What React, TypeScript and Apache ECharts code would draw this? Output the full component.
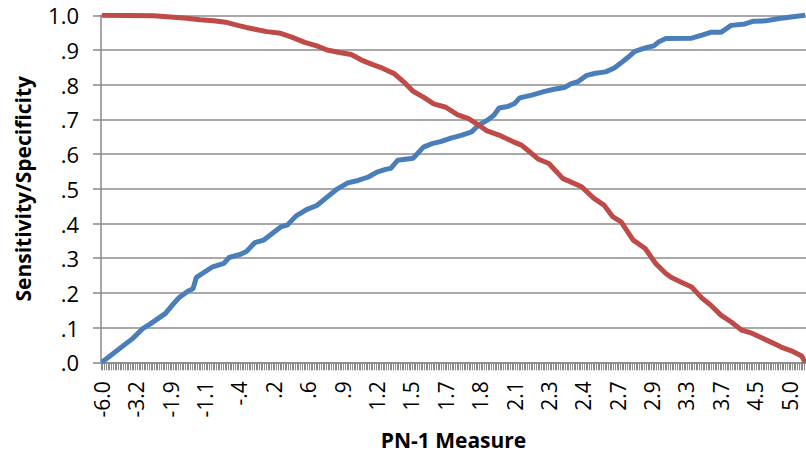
import React, { useEffect, useRef } from "react";
import * as echarts from "echarts";

const CATEGORY_COUNT = 410;
const LABEL_STEP = 20;
const tickLabels = ["-6.0", "-3.2", "-1.9", "-1.1", "-.4", ".2", ".6", ".9", "1.2", "1.5", "1.7", "1.8", "2.1", "2.3", "2.4", "2.7", "2.9", "3.3", "3.7", "4.5", "5.0"];

const sensIndex = [0, 18, 24, 28, 37, 41, 45, 50, 53, 55, 64, 71, 74, 81, 84, 89, 94, 104, 108, 113, 119, 125, 131, 137, 143, 149, 155, 160, 165, 168, 172, 181, 187, 192, 197, 203, 209, 215, 219, 224, 228, 231, 236, 240, 243, 250, 257, 263, 269, 273, 277, 282, 287, 293, 298, 302, 306, 310, 316, 321, 324, 328, 343, 349, 354, 360, 366, 374, 379, 386, 394, 402, 409];
const sensValue = [0.0, 0.069, 0.098, 0.11, 0.141, 0.165, 0.187, 0.205, 0.212, 0.245, 0.274, 0.285, 0.302, 0.312, 0.319, 0.345, 0.352, 0.39, 0.396, 0.422, 0.44, 0.452, 0.476, 0.5, 0.517, 0.524, 0.534, 0.548, 0.556, 0.559, 0.582, 0.588, 0.62, 0.63, 0.636, 0.646, 0.654, 0.664, 0.683, 0.697, 0.712, 0.733, 0.737, 0.746, 0.762, 0.77, 0.78, 0.787, 0.792, 0.803, 0.809, 0.827, 0.833, 0.837, 0.848, 0.863, 0.879, 0.896, 0.906, 0.912, 0.924, 0.933, 0.934, 0.943, 0.951, 0.951, 0.971, 0.975, 0.983, 0.984, 0.991, 0.996, 1.0];

const specIndex = [0, 30, 48, 57, 65, 73, 79, 84, 89, 96, 104, 110, 118, 125, 131, 139, 145, 151, 158, 162, 165, 170, 176, 181, 187, 193, 200, 207, 213, 219, 224, 231, 239, 244, 247, 254, 260, 268, 279, 286, 292, 297, 302, 309, 316, 322, 328, 331, 337, 343, 349, 354, 360, 366, 372, 378, 384, 390, 395, 401, 407, 409];
const specValue = [1.0, 0.999, 0.992, 0.987, 0.984, 0.979, 0.971, 0.965, 0.96, 0.953, 0.948, 0.938, 0.922, 0.912, 0.9, 0.892, 0.887, 0.871, 0.857, 0.85, 0.843, 0.832, 0.806, 0.781, 0.764, 0.745, 0.735, 0.713, 0.703, 0.684, 0.667, 0.655, 0.636, 0.626, 0.614, 0.585, 0.573, 0.53, 0.506, 0.473, 0.453, 0.42, 0.405, 0.352, 0.328, 0.285, 0.256, 0.245, 0.231, 0.217, 0.185, 0.165, 0.136, 0.116, 0.093, 0.084, 0.07, 0.056, 0.044, 0.033, 0.018, 0.0];

const FONT = "'Open Sans', 'Liberation Sans', sans-serif";

export default function App() {
  const ref = useRef<HTMLDivElement>(null);
  useEffect(() => {
    if (!ref.current) return;
    const chart = echarts.init(ref.current, undefined, { renderer: "svg" });
    const categories: string[] = [];
    for (let i = 0; i < CATEGORY_COUNT; i++) {
      const k = i / LABEL_STEP;
      categories.push(i % LABEL_STEP === 0 && k < tickLabels.length ? tickLabels[k] : "");
    }
    const sensData = sensIndex.map((idx, k) => [idx, sensValue[k]]);
    const specData = specIndex.map((idx, k) => [idx, specValue[k]]);
    chart.setOption({
      animation: false,
      grid: { left: 101, top: 15.3, width: 705, height: 347, containLabel: false, outerBoundsMode: "none" },
      xAxis: {
        type: "category",
        data: categories,
        boundaryGap: true,
        name: "PN-1 Measure",
        nameLocation: "middle",
        nameGap: 67,
        nameTextStyle: { fontFamily: FONT, fontWeight: "bold", fontSize: 21, color: "#000" },
        axisLine: { lineStyle: { color: "#888", width: 1.5 } },
        axisTick: { show: true, interval: 0, length: 8, lineStyle: { color: "#8a8a8a", width: 1 } },
        axisLabel: { interval: LABEL_STEP - 1, rotate: 90, margin: 19, fontFamily: FONT, fontSize: 21, color: "#000" },
        splitLine: { show: false },
      },
      yAxis: {
        type: "value",
        min: 0,
        max: 1,
        interval: 0.1,
        name: "Sensitivity/Specificity",
        nameLocation: "middle",
        nameGap: 68,
        nameRotate: 90,
        nameTextStyle: { fontFamily: FONT, fontWeight: "bold", fontSize: 21, color: "#000" },
        axisLine: { show: true, lineStyle: { color: "#888", width: 1.5 } },
        axisTick: { show: true, length: 8, lineStyle: { color: "#888", width: 1.5 } },
        axisLabel: {
          margin: 22,
          fontFamily: FONT,
          fontSize: 22,
          color: "#000",
          formatter: (v: number) => (v >= 0.999 ? "1.0" : "." + Math.round(v * 10)),
        },
        splitLine: { lineStyle: { color: "#8c8c8c", width: 1.5 } },
      },
      series: [
        {
          name: "Sensitivity",
          type: "line",
          data: sensData,
          showSymbol: false,
          lineStyle: { color: "#4a7ebb", width: 5 },
          itemStyle: { color: "#4a7ebb" },
        },
        {
          name: "Specificity",
          type: "line",
          data: specData,
          showSymbol: false,
          lineStyle: { color: "#be4b48", width: 5 },
          itemStyle: { color: "#be4b48" },
        },
      ],
    });
    return () => chart.dispose();
  }, []);
  return <div ref={ref} style={{ position: "fixed", left: 0, top: 0, width: 806, height: 461, background: "#fff" }} />;
}
